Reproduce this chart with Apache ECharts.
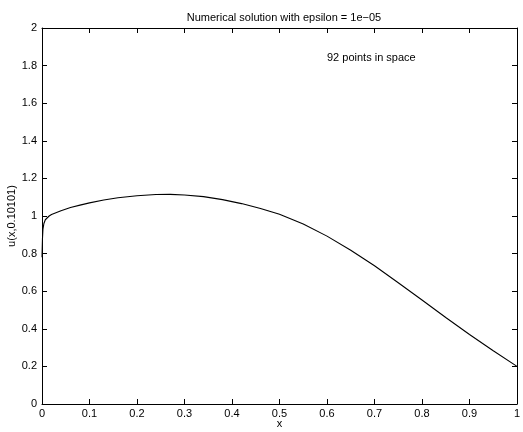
<!DOCTYPE html>
<html><head><meta charset="utf-8">
<script src="https://cdn.jsdelivr.net/npm/echarts@6/dist/echarts.min.js"></script>
<style>html,body{margin:0;padding:0;background:#fff}#c{width:523px;height:432px}</style>
</head><body><div id="c"></div>
<script>
var titleText = 'Numerical solution with epsilon = 1e\u221205';
var annotation = '92 points in space';
var xLabel = 'x';
var yLabel = 'u(x,0.10101)';
var xs = [0, 0.001, 0.002, 0.004, 0.007, 0.01, 0.015, 0.02, 0.04, 0.06, 0.08, 0.1, 0.13, 0.16, 0.2, 0.24, 0.27, 0.3, 0.34, 0.38, 0.42, 0.46, 0.5, 0.55, 0.6, 0.65, 0.7, 0.75, 0.8, 0.85, 0.9, 0.95, 1.0];
var us = [0.78, 0.88, 0.93, 0.96, 0.98, 0.99, 1.0, 1.008, 1.028, 1.045, 1.058, 1.07, 1.085, 1.097, 1.108, 1.114, 1.115, 1.112, 1.103, 1.087, 1.066, 1.040, 1.009, 0.958, 0.893, 0.818, 0.735, 0.645, 0.553, 0.46, 0.37, 0.283, 0.2];

var font = 'Liberation Sans, Arial, Helvetica, sans-serif';
var chart = echarts.init(document.getElementById('c'));
var data = xs.map(function(x, i){ return [x, us[i]]; });
function axLine(){ return {show: true, onZero: false, lineStyle: {color: '#000', width: 1}}; }
function tick(){ return {show: true, inside: true, length: 5, lineStyle: {color: '#000', width: 1}}; }
chart.setOption({
  animation: false,
  backgroundColor: '#fff',
  title: {text: titleText, left: 279, top: 7, textAlign: 'center',
    textStyle: {fontFamily: font, fontSize: 11, fontWeight: 'normal', color: '#000'}},
  grid: {left: 42, right: 6, top: 28, bottom: 28, show: false,
    containLabel: false, outerBoundsMode: 'none'},
  xAxis: [
    {type: 'value', min: 0, max: 1, interval: 0.1, position: 'bottom',
     name: xLabel, nameLocation: 'middle', nameGap: 20, nameMoveOverlap: false,
     nameTextStyle: {fontFamily: font, fontSize: 11, color: '#000', verticalAlign: 'middle'},
     axisLine: axLine(), axisTick: tick(), splitLine: {show: false},
     axisLabel: {fontFamily: font, fontSize: 11, color: '#000', margin: 4}},
    {type: 'value', min: 0, max: 1, interval: 0.1, position: 'top',
     axisLine: axLine(), axisTick: tick(), splitLine: {show: false}, axisLabel: {show: false}}
  ],
  yAxis: [
    {type: 'value', min: 0, max: 2, interval: 0.2, position: 'left',
     name: yLabel, nameLocation: 'middle', nameGap: 30, nameRotate: 90, nameMoveOverlap: false,
     nameTextStyle: {fontFamily: font, fontSize: 11, color: '#000', verticalAlign: 'middle'},
     axisLine: axLine(), axisTick: tick(), splitLine: {show: false},
     axisLabel: {fontFamily: font, fontSize: 11, color: '#000', margin: 5}},
    {type: 'value', min: 0, max: 2, interval: 0.2, position: 'right',
     axisLine: axLine(), axisTick: tick(), splitLine: {show: false}, axisLabel: {show: false}}
  ],
  series: [
    {type: 'line', data: data, showSymbol: false, symbol: 'none',
     lineStyle: {color: '#000', width: 1.1}, xAxisIndex: 0, yAxisIndex: 0},
    {type: 'line', data: [], xAxisIndex: 1, yAxisIndex: 1, symbol: 'none'}
  ]
});
var p = chart.convertToPixel({xAxisIndex: 0, yAxisIndex: 0}, [0.6, 1.84]);
chart.setOption({graphic: [{type: 'text', left: p[0], top: p[1] - 6,
  style: {text: annotation, font: '11px ' + font, fill: '#000'}}]});
</script></body></html>
